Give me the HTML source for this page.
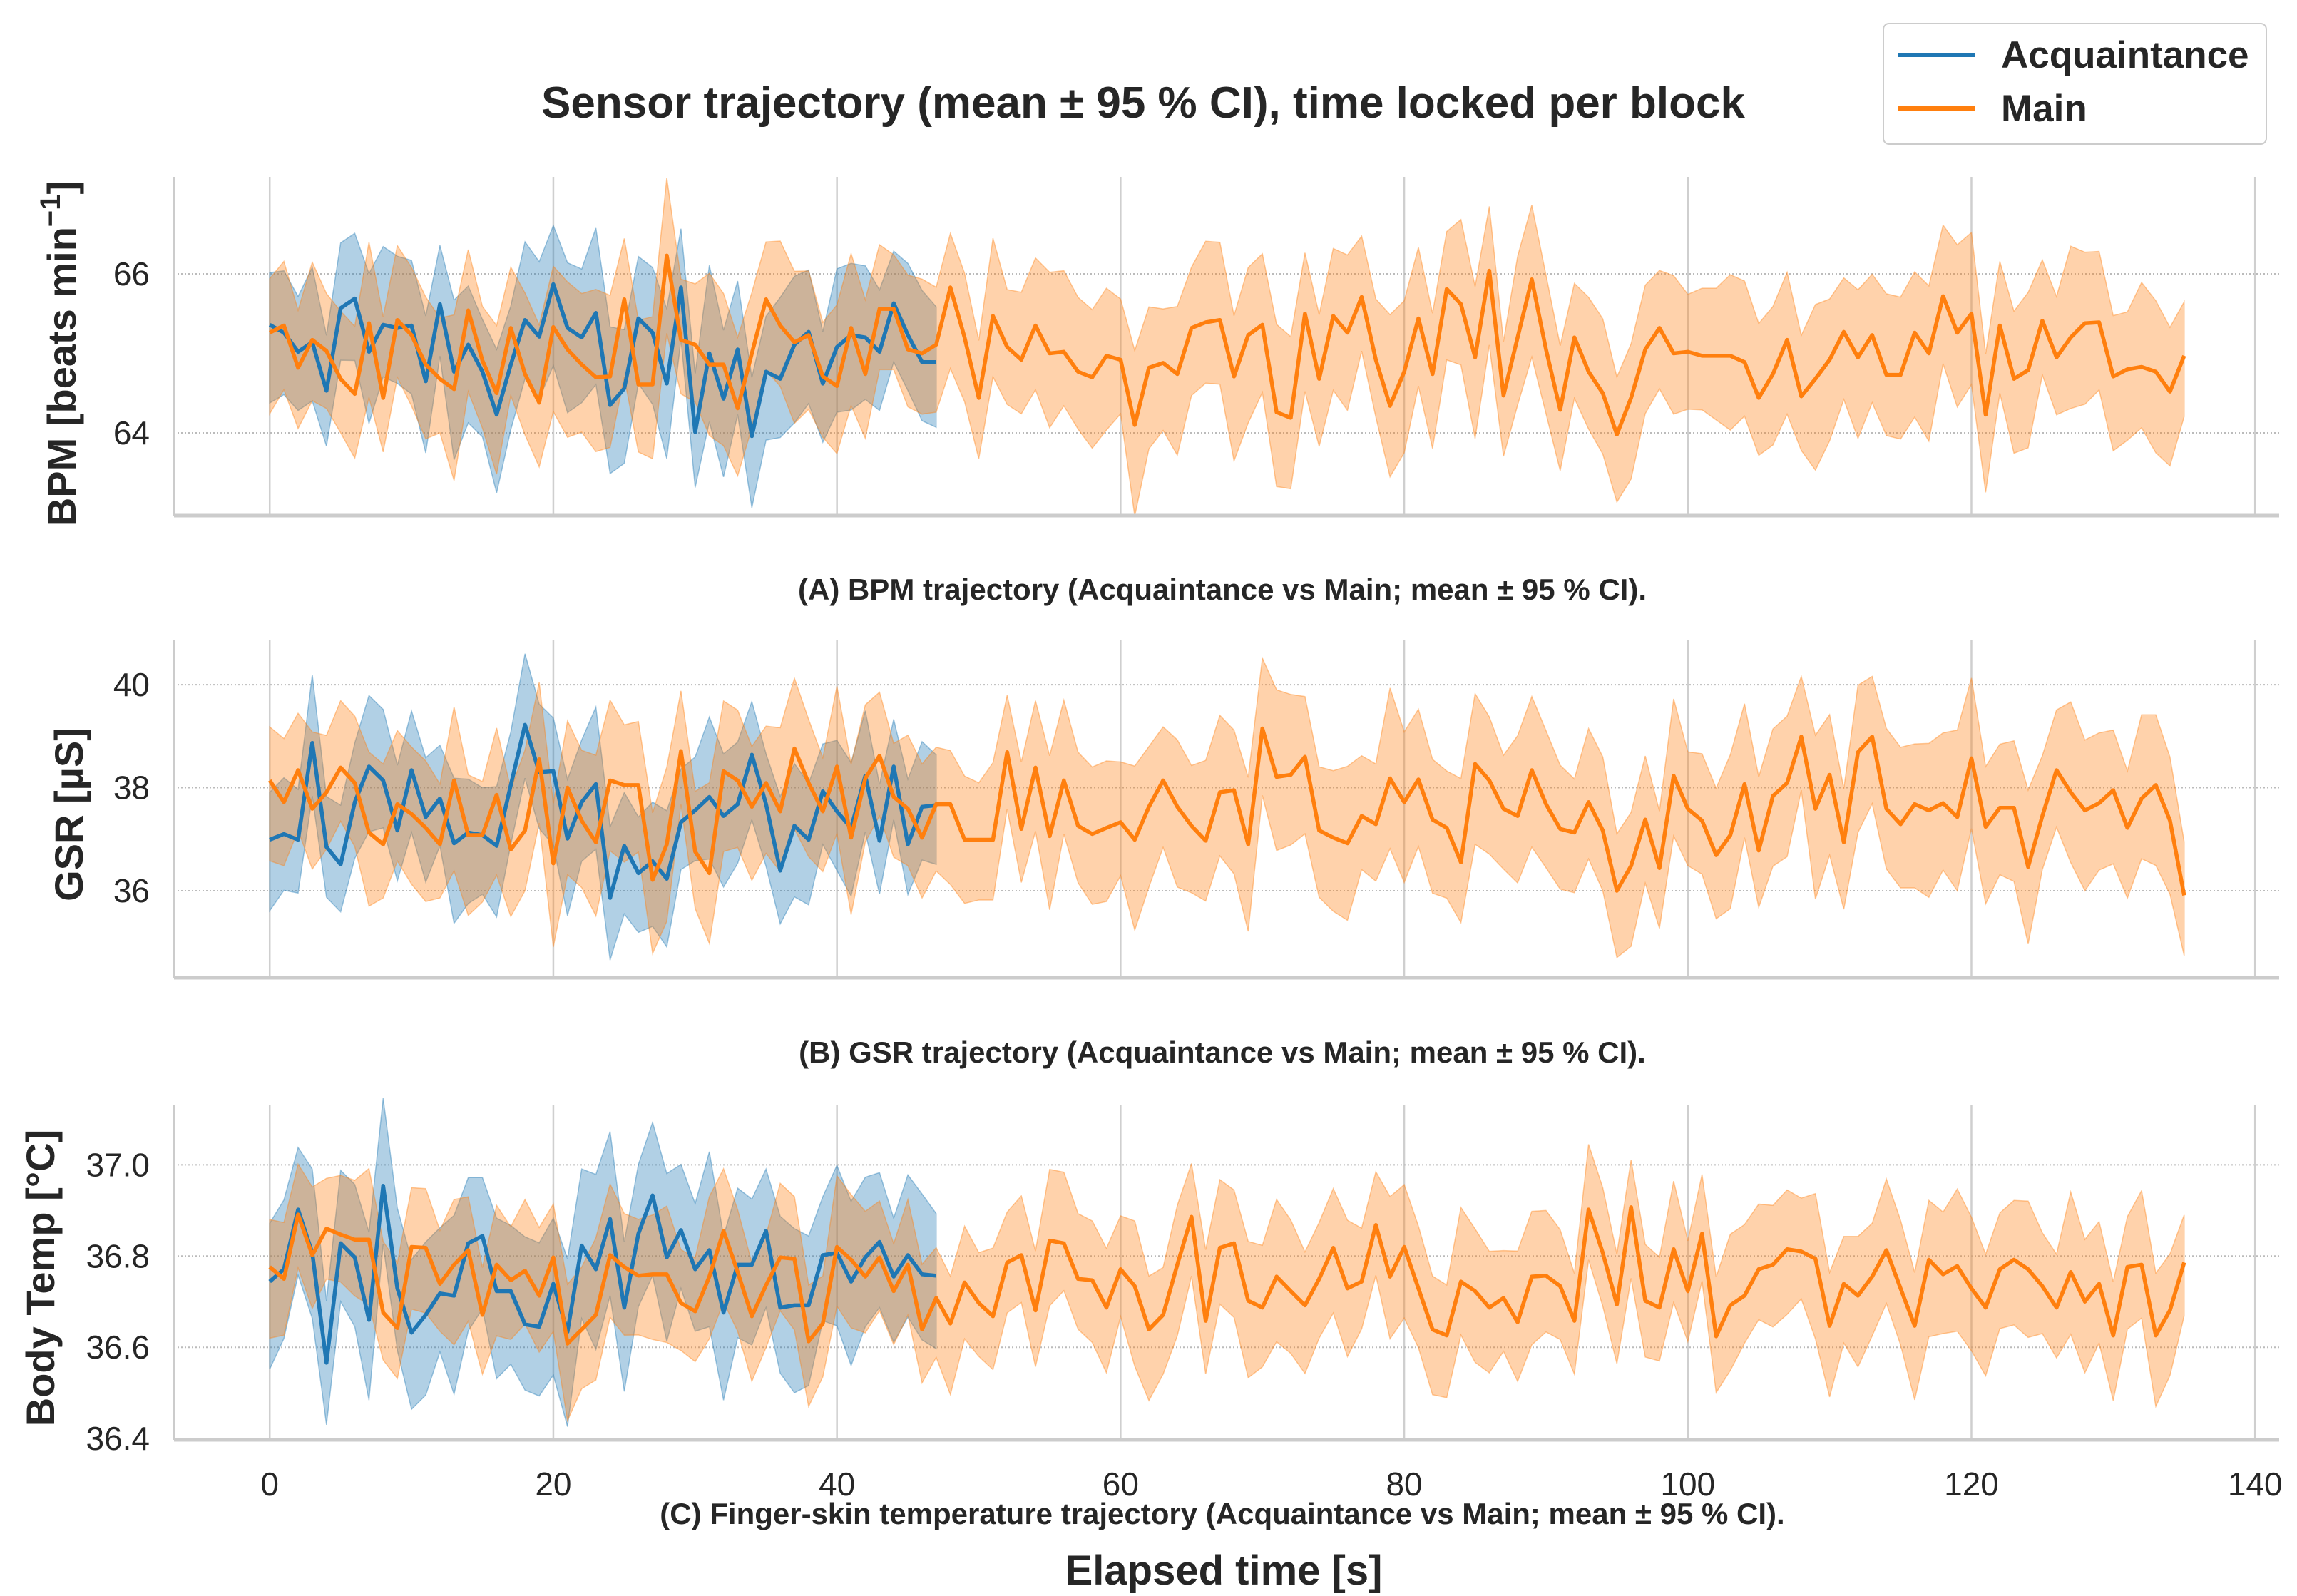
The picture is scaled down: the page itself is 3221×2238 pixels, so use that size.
<!DOCTYPE html>
<html><head><meta charset="utf-8"><style>
html,body{margin:0;padding:0;background:#fff}
svg{display:block}
text{font-family:"Liberation Sans",Arial,sans-serif;fill:#262626}
</style></head><body>
<svg id="chart" width="3221" height="2238" viewBox="0 0 3221 2238" xmlns="http://www.w3.org/2000/svg">
<text x="1603" y="165" font-size="62" font-weight="bold" text-anchor="middle">Sensor trajectory (mean ± 95 % CI), time locked per block</text>
<g>
<rect x="2641" y="33" width="537" height="169" rx="8" fill="#fff" stroke="#ccc" stroke-width="2"/>
<line x1="2662" y1="77" x2="2770" y2="77" stroke="#1f77b4" stroke-width="6"/>
<text x="2806" y="95" font-size="53" font-weight="bold">Acquaintance</text>
<line x1="2662" y1="152" x2="2770" y2="152" stroke="#ff7f0e" stroke-width="6"/>
<text x="2806" y="170" font-size="53" font-weight="bold">Main</text>
</g>
<text x="1714" y="841" font-size="42" font-weight="bold" text-anchor="middle">(A) BPM trajectory (Acquaintance vs Main; mean ± 95 % CI).</text>
<text x="1714" y="1490" font-size="42" font-weight="bold" text-anchor="middle">(B) GSR trajectory (Acquaintance vs Main; mean ± 95 % CI).</text>
<text x="1714" y="2137" font-size="42" font-weight="bold" text-anchor="middle">(C) Finger-skin temperature trajectory (Acquaintance vs Main; mean ± 95 % CI).</text>
<text x="1716" y="2222" font-size="58" font-weight="bold" text-anchor="middle">Elapsed time [s]</text>
<text transform="translate(106,496) rotate(-90)" font-size="56" font-weight="bold" text-anchor="middle">BPM [beats min<tspan font-size="40" dy="-22">−1</tspan><tspan dy="22">]</tspan></text>
<text transform="translate(116,1142) rotate(-90)" font-size="56" font-weight="bold" text-anchor="middle">GSR [µS]</text>
<text transform="translate(76,1792) rotate(-90)" font-size="56" font-weight="bold" text-anchor="middle">Body Temp [°C]</text>
<g id="plots"></g>
</svg>
<script>
const xTicks=[0,20,40,60,80,100,120,140];
const bpmTicks=[64,66];
const gsrTicks=[36,38,40];
const tempTicks=[36.4,36.6,36.8,37.0];

const bpmAcq=[65.36,65.26,65.02,65.14,64.53,65.57,65.69,65.02,65.36,65.32,65.35,64.65,65.62,64.77,65.11,64.77,64.23,64.86,65.42,65.21,65.87,65.32,65.20,65.51,64.35,64.56,65.44,65.26,64.62,65.83,64.01,65.00,64.43,65.05,63.96,64.77,64.68,65.11,65.27,64.62,65.08,65.23,65.20,65.02,65.63,65.23,64.89,64.89];
const bpmMain=[65.26,65.35,64.82,65.17,65.03,64.68,64.49,65.38,64.44,65.42,65.23,64.86,64.68,64.55,65.54,64.91,64.50,65.32,64.74,64.38,65.33,65.05,64.86,64.70,64.71,65.68,64.61,64.61,66.23,65.17,65.11,64.86,64.86,64.31,65.00,65.68,65.35,65.14,65.23,64.71,64.59,65.32,64.74,65.56,65.56,65.05,65.00,65.11,65.83,65.20,64.44,65.47,65.08,64.92,65.35,65.00,65.02,64.77,64.70,64.97,64.92,64.10,64.82,64.88,64.74,65.32,65.39,65.42,64.71,65.23,65.36,64.26,64.19,65.50,64.68,65.47,65.26,65.71,64.92,64.34,64.77,65.44,64.74,65.81,65.62,64.95,66.04,64.47,65.20,65.93,65.05,64.29,65.20,64.77,64.50,63.98,64.44,65.05,65.32,65.00,65.02,64.97,64.97,64.97,64.89,64.44,64.74,65.17,64.46,64.68,64.92,65.27,64.95,65.23,64.73,64.73,65.26,65.00,65.72,65.26,65.50,64.23,65.35,64.68,64.79,65.41,64.95,65.20,65.38,65.39,64.71,64.80,64.83,64.77,64.52,64.97];
const gsrAcq=[36.99,37.10,36.99,38.87,36.85,36.51,37.72,38.41,38.14,37.17,38.34,37.43,37.79,36.92,37.13,37.08,36.87,38.05,39.22,38.30,38.32,37.01,37.72,38.07,35.86,36.87,36.34,36.57,36.23,37.33,37.56,37.82,37.45,37.68,38.64,37.68,36.39,37.26,36.99,37.93,37.54,37.22,38.23,36.97,38.41,36.90,37.63,37.66];
const gsrMain=[38.14,37.72,38.34,37.59,37.91,38.39,38.09,37.13,36.90,37.68,37.49,37.22,36.90,38.14,37.08,37.08,37.86,36.80,37.17,38.55,36.53,38.00,37.36,36.94,38.14,38.05,38.05,36.21,36.90,38.71,36.76,36.34,38.32,38.14,37.63,38.09,37.54,38.76,38.09,37.54,38.41,37.03,38.18,38.62,37.82,37.59,37.03,37.68,37.68,36.99,36.99,36.99,38.69,37.20,38.39,37.06,38.14,37.26,37.10,37.22,37.33,36.99,37.63,38.14,37.63,37.26,36.97,37.91,37.95,36.90,39.15,38.21,38.25,38.60,37.17,37.03,36.92,37.45,37.29,38.18,37.72,38.16,37.38,37.22,36.55,38.46,38.14,37.59,37.45,38.34,37.68,37.20,37.13,37.72,37.17,36.00,36.48,37.38,36.44,38.23,37.59,37.36,36.69,37.08,38.07,36.78,37.84,38.09,38.99,37.59,38.25,36.94,38.69,38.99,37.59,37.29,37.68,37.56,37.70,37.43,38.57,37.24,37.61,37.61,36.46,37.45,38.34,37.91,37.56,37.70,37.95,37.22,37.79,38.05,37.36,35.91];
const tempAcq=[36.744,36.771,36.902,36.807,36.566,36.828,36.797,36.660,36.954,36.729,36.632,36.671,36.718,36.713,36.828,36.844,36.723,36.723,36.650,36.645,36.739,36.634,36.823,36.771,36.881,36.687,36.849,36.933,36.797,36.857,36.771,36.813,36.676,36.781,36.781,36.855,36.687,36.692,36.692,36.802,36.807,36.744,36.797,36.831,36.755,36.802,36.760,36.757];
const tempMain=[36.776,36.750,36.891,36.802,36.860,36.847,36.836,36.836,36.676,36.642,36.820,36.818,36.739,36.781,36.813,36.671,36.781,36.747,36.768,36.713,36.797,36.608,36.639,36.671,36.802,36.776,36.757,36.760,36.760,36.697,36.679,36.755,36.855,36.765,36.668,36.736,36.797,36.794,36.613,36.652,36.820,36.792,36.755,36.797,36.723,36.781,36.639,36.708,36.652,36.742,36.697,36.668,36.786,36.802,36.681,36.834,36.828,36.750,36.747,36.687,36.771,36.734,36.639,36.671,36.781,36.886,36.658,36.818,36.828,36.702,36.687,36.755,36.723,36.692,36.750,36.818,36.729,36.744,36.868,36.755,36.820,36.729,36.639,36.626,36.744,36.723,36.687,36.708,36.655,36.755,36.757,36.734,36.658,36.902,36.807,36.694,36.907,36.702,36.687,36.815,36.723,36.849,36.624,36.692,36.713,36.771,36.781,36.815,36.810,36.794,36.647,36.739,36.713,36.755,36.813,36.729,36.647,36.792,36.760,36.778,36.729,36.687,36.771,36.792,36.771,36.734,36.687,36.765,36.700,36.739,36.626,36.776,36.781,36.626,36.681,36.786];
const ciShape=[1.0,0.9,1.1,0.8,1.2,0.9,1.0,1.15,0.85,1.1,0.95,1.2,0.8,1.05,0.9,1.25,0.95,0.85,1.1,1.0,1.3,0.9,1.05,0.8,1.15,1.0,0.9,1.2,1.35,0.95,1.1,0.85,1.0,1.2,0.9,1.05,0.8,1.1,1.0,0.9,1.15,0.95,1.05,1.2,0.85,1.0,1.1,0.9];
const bpmAcqCI=0.82, bpmMainCI=0.85, gsrAcqCI=1.15, gsrMainCI=1.3, tempAcqCI=0.16, tempMainCI=0.13;

const X0=244, X1=3196, XMIN=-6.75, XMAX=141.7;
function xs(t){return X0+(t-XMIN)/(XMAX-XMIN)*(X1-X0);}
const panels=[
 {name:'bpm',top:248,bot:723,ymin:62.96,ymax:67.22,ticks:bpmTicks,fmt:v=>String(v),acq:bpmAcq,main:bpmMain,ca:bpmAcqCI,cm:bpmMainCI,xlabels:false},
 {name:'gsr',top:898,bot:1371,ymin:34.31,ymax:40.86,ticks:gsrTicks,fmt:v=>String(v),acq:gsrAcq,main:gsrMain,ca:gsrAcqCI,cm:gsrMainCI,xlabels:false},
 {name:'temp',top:1549,bot:2019,ymin:36.397,ymax:37.132,ticks:tempTicks,fmt:v=>v.toFixed(1),acq:tempAcq,main:tempMain,ca:tempAcqCI,cm:tempMainCI,xlabels:true}
];
const NS='http://www.w3.org/2000/svg';
const root=document.getElementById('plots');
function mk(tag,attrs,parent){const e=document.createElementNS(NS,tag);for(const k in attrs)e.setAttribute(k,attrs[k]);parent.appendChild(e);return e;}
panels.forEach(p=>{
 const ys=v=>p.bot-(v-p.ymin)/(p.ymax-p.ymin)*(p.bot-p.top);
 const g=mk('g',{},root);
 
 
 xTicks.forEach(t=>{
  const l=mk('line',{x1:xs(t),x2:xs(t),y1:p.top,y2:p.bot,stroke:'#cfcfcf','stroke-width':2.5},g);
  
  
  if(p.xlabels){
   const tx=mk('text',{x:xs(t),y:2097,'font-size':46,'text-anchor':'middle'},g);
   tx.textContent=t;
   
   
  }
 });
 p.ticks.forEach(v=>{
  const l=mk('line',{x1:X0,x2:X1,y1:ys(v),y2:ys(v),stroke:'#bbb','stroke-width':2,'stroke-dasharray':'2 3'},g);
  
  
  const tx=mk('text',{x:210,y:ys(v)+16,'font-size':46,'text-anchor':'end'},g);
  tx.textContent=p.fmt(v);
  
  
 });
 [['acq',p.acq,p.ca,'#1f77b4',0.35],['main',p.main,p.cm,'#ff7f0e',0.35]].forEach(([nm,arr,ci,col,op])=>{
  const up=arr.map((v,i)=>[xs(i),ys(v+ci*ciShape[(i*7+3)%ciShape.length])]);
  const lo=arr.map((v,i)=>[xs(i),ys(v-ci*ciShape[(i*5+11)%ciShape.length])]);
  const pts=up.concat(lo.reverse()).map(q=>q[0].toFixed(1)+','+q[1].toFixed(1)).join(' ');
  const band=mk('polygon',{points:pts,fill:col,'fill-opacity':op,stroke:col,'stroke-opacity':0.4,'stroke-width':1.5},g);
  
  
 });
 [['acq',p.acq,'#1f77b4'],['main',p.main,'#ff7f0e']].forEach(([nm,arr,col])=>{
  const d=arr.map((v,i)=>(i?'L':'M')+xs(i).toFixed(1)+','+ys(v).toFixed(1)).join('');
  const ln=mk('path',{d:d,fill:'none',stroke:col,'stroke-width':5.5,'stroke-linejoin':'round'},g);
  
  
 });
 const sl=mk('line',{x1:X0,x2:X0,y1:p.top,y2:p.bot,stroke:'#ccc','stroke-width':3},g);
 
 
 const sb=mk('line',{x1:X0,x2:X1,y1:p.bot,y2:p.bot,stroke:'#ccc','stroke-width':5},g);
 
 
});
</script>
</body></html>
